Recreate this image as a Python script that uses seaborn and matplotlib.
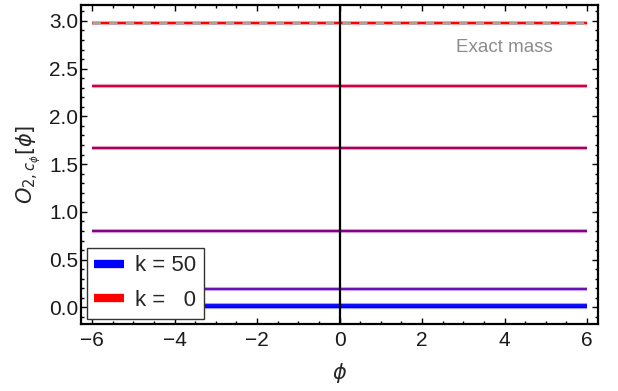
import numpy as np
import pandas as pd
import matplotlib
matplotlib.use("Agg")
import matplotlib.pyplot as plt
import matplotlib.patheffects as pe
from matplotlib.ticker import MultipleLocator
from matplotlib.lines import Line2D
import seaborn as sns

# ---- data ----
phi_range = [-6, 6]
curve_names = ["c1", "c2", "c3", "c4", "c5", "c6", "c7"]
curve_levels = [0.005, 0.03, 0.19, 0.80, 1.67, 2.32, 2.98]
curve_colors = ["#0000FF", "#1010F5", "#6A10B8", "#860088", "#A8005A", "#D20040", "#FF0000"]
exact_mass = 2.98
legend_labels = ["k = 50", "k =   0"]
legend_colors = ["#0000FF", "#FF0000"]
xticks = [-6, -4, -2, 0, 2, 4, 6]
yticks = [0.0, 0.5, 1.0, 1.5, 2.0, 2.5, 3.0]

rows = []
for name, lvl in zip(curve_names, curve_levels):
    for x in phi_range:
        rows.append({"phi": x, "O": lvl, "curve": name})
df = pd.DataFrame(rows)

sns.set_theme(style="white")
plt.rcParams["font.family"] = ["Liberation Sans", "DejaVu Sans"]
plt.rcParams["mathtext.fontset"] = "dejavusans"

fig = plt.figure(figsize=(6.18, 3.91), dpi=100)
ax = fig.add_axes([0.131, 0.171, 0.837, 0.816])

palette = dict(zip(curve_names, curve_colors))
sns.lineplot(data=df, x="phi", y="O", hue="curve", palette=palette, ax=ax,
             linewidth=1.6, legend=False, zorder=3)
for ln, col in zip(ax.get_lines(), curve_colors):
    ln.set_solid_capstyle("butt")
    ln.set_path_effects([pe.Stroke(linewidth=3.0, foreground=col, alpha=0.3), pe.Normal()])

# exact mass dashed gray on top of red line
ax.plot(phi_range, [exact_mass, exact_mass], color="#A8A8A8", lw=2.0,
        dashes=(3, 3), dash_capstyle="butt", zorder=4)
ax.axvline(0, color="black", lw=1.6, zorder=5)

ax.text(4.0, 2.725, "Exact mass", color="#8C8C8C", fontsize=13.5,
        ha="center", va="center")

ax.set_xlim(-6.27, 6.27)
ax.set_ylim(-0.175, 3.165)
ax.set_xticks(xticks)
ax.set_xticklabels(["\u2212%d" % -t if t < 0 else "%d" % t for t in xticks])
ax.set_yticks(yticks)
ax.set_yticklabels(["%.1f" % t for t in yticks])
ax.xaxis.set_minor_locator(MultipleLocator(0.5))
ax.yaxis.set_minor_locator(MultipleLocator(0.1))
ax.tick_params(which="both", direction="in", top=True, right=True, bottom=True, left=True,
               color="black", width=1.0, labelsize=15, colors="black")
ax.tick_params(which="major", length=4)
ax.tick_params(which="minor", length=2.2)
ax.tick_params(axis="y", which="major", pad=2)
ax.tick_params(axis="x", which="major", pad=5)
ax.tick_params(axis="both", which="both", labelcolor="#1a1a1a")
for s in ax.spines.values():
    s.set_color("black")
    s.set_linewidth(1.6)

ax.set_xlabel(r"$\phi$", fontsize=15, labelpad=8)
ax.set_ylabel(r"$O_{2,c_\phi}[\phi]$", fontsize=15, labelpad=4)

handles = [Line2D([0], [0], color=c, lw=6, solid_capstyle="butt") for c in legend_colors]
leg = ax.legend(handles, legend_labels, loc="lower left", fontsize=16,
                frameon=True, fancybox=False, framealpha=1, edgecolor="#333333",
                borderaxespad=0.25, handlelength=1.35, handletextpad=0.5,
                borderpad=0.35, labelspacing=0.6)
leg.get_frame().set_linewidth(1.0)
leg.set_zorder(10)

fig.savefig("out.png", dpi=100)
